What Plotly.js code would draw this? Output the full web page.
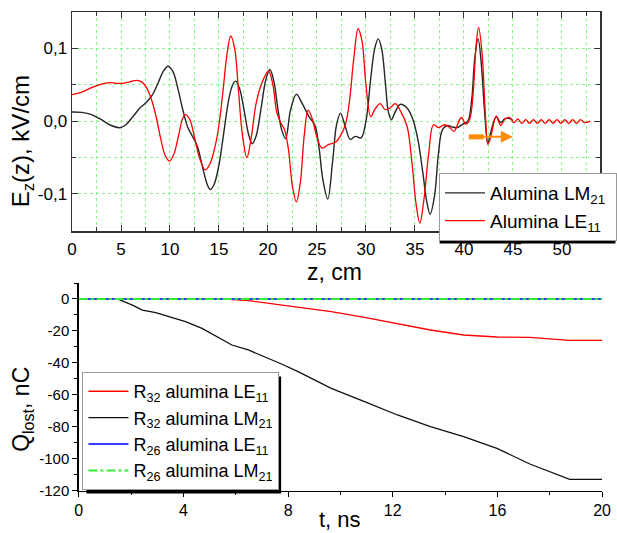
<!DOCTYPE html>
<html><head><meta charset="utf-8">
<script src="https://cdn.plot.ly/plotly-3.0.1.min.js"></script>
<style>html,body{margin:0;padding:0;background:#fff}#c{width:617px;height:533px}</style>
</head><body><div id="c"></div>
<script>
// ---- Top panel: Ez(z), kV/cm ----
const zLM21 = [0,1.0,2.0,3.0,4.0,4.9,5.5,6.2,7.0,7.6,8.2,8.8,9.3,9.8,10.3,10.8,11.3,11.8,12.3,12.8,13.3,13.8,14.1,14.5,15.0,15.5,16.0,16.4,16.7,17.1,17.6,18.0,18.4,18.8,19.3,19.8,20.2,20.6,21.0,21.4,21.8,22.3,22.9,23.5,24.2,24.8,25.2,25.6,26.1,26.6,27.0,27.4,27.9,28.4,28.9,29.5,30.0,30.5,30.9,31.25,31.6,32.0,32.3,32.6,33.0,33.5,34.2,34.8,35.3,35.8,36.2,36.55,37.0,37.4,37.8,38.3,38.8,39.3,39.9,40.4,40.8,41.1,41.45,41.8,42.1,42.45,42.8,43.3,43.75,44.15,44.6,45.0];
const eLM21 = [0.0125,0.012,0.009,0.002,-0.006,-0.009,-0.005,0.006,0.019,0.026,0.036,0.053,0.068,0.0755,0.068,0.045,0.016,-0.008,-0.021,-0.035,-0.062,-0.087,-0.094,-0.087,-0.06,-0.015,0.03,0.05,0.055,0.045,0.012,-0.017,-0.031,-0.02,0.018,0.058,0.071,0.055,0.018,-0.012,-0.024,0.015,0.037,0.024,0.006,-0.006,-0.035,-0.08,-0.107,-0.055,-0.005,0.011,-0.008,-0.025,-0.021,-0.023,0.0,0.06,0.1,0.113,0.1,0.05,0.012,0.002,0.013,0.023,0.018,0.002,-0.025,-0.07,-0.11,-0.128,-0.103,-0.045,-0.012,-0.006,-0.008,-0.009,-0.004,0.0,0.03,0.085,0.113,0.075,0.015,-0.03,-0.012,0.006,-0.002,0.003,0.004,0.001];

const zLE11 = [0,1.0,2.0,3.0,3.8,4.5,5.2,5.9,6.6,7.1,7.6,8.1,8.6,9.1,9.5,9.95,10.4,10.9,11.3,11.6,12.0,12.5,13.0,13.6,14.1,14.6,15.0,15.4,15.8,16.2,16.6,17.0,17.4,17.85,18.3,18.8,19.4,20.05,20.5,20.9,21.3,21.7,22.1,22.5,22.9,23.3,23.7,24.1,24.5,25.0,25.5,26.2,26.9,27.4,27.9,28.3,28.75,29.2,29.6,30.0,30.5,30.9,31.45,31.95,32.45,33.0,33.6,34.2,34.7,35.1,35.5,35.9,36.4,36.9,37.4,38.0,38.5,39.0,39.4,39.75,40.2,40.6,40.95,41.25,41.5,41.85,42.2,42.45,42.8,43.3,43.75,44.2,44.7,45.1,45.5,45.9,46.3,46.7,47.1,47.5,47.9,48.3,48.7,49.1,49.5,49.9,50.3,50.7,51.1,51.5,51.9,52.3,52.9];
const eLE11 = [0.0365,0.04,0.046,0.051,0.053,0.052,0.052,0.054,0.056,0.054,0.046,0.03,0.005,-0.027,-0.047,-0.055,-0.045,-0.018,0.004,0.009,0.003,-0.022,-0.05,-0.067,-0.058,-0.035,-0.005,0.04,0.09,0.117,0.1,0.04,-0.02,-0.05,-0.022,0.025,0.053,0.069,0.05,0.012,-0.002,-0.012,-0.04,-0.09,-0.111,-0.085,-0.02,0.015,0.004,-0.022,-0.037,-0.032,-0.029,-0.02,-0.005,0.025,0.085,0.127,0.11,0.05,0.006,0.016,0.024,0.016,0.018,0.024,0.012,-0.007,-0.057,-0.112,-0.14,-0.11,-0.045,-0.005,-0.009,-0.005,-0.008,-0.014,-0.003,0.005,-0.004,0.003,0.04,0.105,0.129,0.094,0.007,-0.032,-0.018,0.007,-0.006,0.003,0.005,-0.002,0.003,-0.003,0.002,-0.003,0.002,-0.003,0.002,-0.003,0.002,-0.003,0.002,-0.003,0.002,-0.003,0.002,-0.003,0.002,-0.002,0.0];

const topXTicks = [0,5,10,15,20,25,30,35,40,45,50];
const topYTicks = [-0.1,0,0.1];
const topYLabels = ['-0,1','0,0','0,1'];

// ---- Bottom panel: Q_lost(t), nC ----
const tR32LE11 = [0,5.6,6.48,7.75,8.38,9.65,10.92,12.18,13.44,14.71,15.98,17.24,18.76,20];
const qR32LE11 = [0,0,-1.0,-3.8,-5.2,-7.9,-11.5,-15.6,-19.4,-22.5,-23.8,-24.0,-25.9,-25.9];
const tR32LM21 = [0,1.48,2.05,2.43,2.94,3.57,4.08,4.71,5.34,5.85,6.48,7.12,7.75,8.38,9.65,10.92,12.18,13.44,14.71,15.98,17.24,18.76,20];
const qR32LM21 = [0,0,-3.8,-6.9,-8.5,-11.5,-14.2,-18.4,-24,-28.8,-31.9,-36.1,-40.7,-45.5,-55.9,-64.3,-72.6,-79.9,-86.2,-93.5,-103.3,-112.9,-112.9];
const tR26 = [0,20];
const qR26LE11 = [0,0];
const qR26LM21 = [0,0];

const botXTicks = [0,4,8,12,16,20];
const botYTicks = [-120,-100,-80,-60,-40,-20,0];
const botYLabels = ['-120','-100','-80','-60','-40','-20','0'];

const FONT = 'Liberation Sans, Arial, sans-serif';
const W = 617, H = 533;
const px = v => v / W, py = v => 1 - v / H;
const GRID = '#8af58a';
const AX = '#333333';
const NB = '\u00a0';

const traces = [
  {x: zLM21, y: eLM21, xaxis:'x', yaxis:'y', mode:'lines', line:{color:'#262626', width:1.4, shape:'spline'}, name:'Alumina LM<sub>21</sub>' + NB, legend:'legend'},
  {x: zLE11, y: eLE11, xaxis:'x', yaxis:'y', mode:'lines', line:{color:'#ff0000', width:1.3, shape:'spline'}, name:'Alumina LE<sub>11</sub>' + NB, legend:'legend'},
  {x: tR32LE11, y: qR32LE11, xaxis:'x2', yaxis:'y2', mode:'lines', line:{color:'#ff0000', width:1.4}, name:'R<sub>32</sub> alumina LE<sub>11</sub>', legend:'legend2'},
  {x: tR32LM21, y: qR32LM21, xaxis:'x2', yaxis:'y2', mode:'lines', line:{color:'#111111', width:1.3}, name:'R<sub>32</sub> alumina LM<sub>21</sub>', legend:'legend2'},
  {x: tR26, y: qR26LE11, xaxis:'x2', yaxis:'y2', mode:'lines', line:{color:'#3a3aff', width:2}, name:'R<sub>26</sub> alumina LE<sub>11</sub>', legend:'legend2'},
  {x: tR26, y: qR26LM21, xaxis:'x2', yaxis:'y2', mode:'lines', line:{color:'#33ee33', width:2, dash:'dashdot'}, name:'R<sub>26</sub> alumina LM<sub>21</sub>', legend:'legend2'}
];

const arrowShape = {type:'line', xref:'x', yref:'y', x0:40.5, x1:42.0, y0:-0.0216, y1:-0.0216, line:{color:'#ff8c00', width:5}, layer:'above'};

const layout = {
  width: W, height: H,
  margin: {l:0, r:0, t:0, b:0},
  paper_bgcolor:'#fff', plot_bgcolor:'#fff',
  font: {family: FONT, color:'#000'},
  showlegend: true,
  xaxis: {
    domain:[px(72.5), px(604)], anchor:'y', range:[0,53.9],
    tickmode:'array', tickvals: topXTicks, ticktext: topXTicks.map(String),
    ticks:'inside', ticklen:6, tickcolor:AX, mirror:'ticks', showline:true, linecolor:AX, linewidth:1.5,
    showgrid:true, gridcolor:GRID, griddash:'dot', gridwidth:1, zeroline:false,
    tickfont:{size:17, family:FONT}, ticklabelstandoff:2,
    minor:{tickmode:'linear', tick0:0, dtick:2.5, ticks:'inside', ticklen:4, tickcolor:AX, showgrid:true, gridcolor:GRID, griddash:'dot', gridwidth:1}
  },
  yaxis: {
    domain:[py(231), py(12)], anchor:'x', range:[-0.151,0.150],
    tickmode:'array', tickvals: topYTicks, ticktext: topYLabels,
    ticks:'inside', ticklen:6, tickcolor:AX, mirror:'ticks', showline:true, linecolor:AX, linewidth:1.5,
    showgrid:true, gridcolor:GRID, griddash:'dot', gridwidth:1, zeroline:false,
    tickfont:{size:17, family:FONT},
    minor:{tickmode:'linear', tick0:0, dtick:0.05, ticks:'inside', ticklen:4, tickcolor:AX, showgrid:true, gridcolor:GRID, griddash:'dot', gridwidth:1}
  },
  xaxis2: {
    domain:[px(79.3), px(606)], anchor:'y2', range:[0,20],
    tickmode:'array', tickvals: botXTicks, ticktext: botXTicks.map(String),
    ticks:'outside', ticklen:5, tickcolor:'#000', showline:true, linecolor:'#000', linewidth:1.5,
    showgrid:false, zeroline:false, tickfont:{size:16, family:FONT},
    minor:{tickmode:'linear', tick0:0, dtick:2, ticks:'outside', ticklen:3, tickcolor:'#000'}
  },
  yaxis2: {
    domain:[py(490.7), py(282.7)], anchor:'x2', range:[-120,10.2],
    tickmode:'array', tickvals: botYTicks, ticktext: botYLabels,
    ticks:'outside', ticklen:5, tickcolor:'#000', showline:true, linecolor:'#000', linewidth:1.5,
    showgrid:false, zeroline:false, tickfont:{size:15, family:FONT},
    minor:{tickmode:'linear', tick0:0, dtick:10, ticks:'outside', ticklen:3, tickcolor:'#000'}
  },
  legend: {
    x: px(442), y: py(173), xanchor:'left', yanchor:'top',
    bgcolor:'#fff', bordercolor:'#999', borderwidth:1,
    font:{size:19, family:FONT}, itemwidth:40, tracegroupgap:0
  },
  legend2: {
    x: px(83), y: py(372), xanchor:'left', yanchor:'top',
    bgcolor:'#fff', bordercolor:'#999', borderwidth:1,
    font:{size:18, family:FONT}, itemwidth:40, tracegroupgap:0
  },
  shapes: [arrowShape],
  annotations: [
    {xref:'x', yref:'y', x:45, y:-0.0216, ax:41.5, ay:-0.0216, axref:'x', ayref:'y', showarrow:true, arrowhead:2, arrowsize:1.2, arrowwidth:2, arrowcolor:'#ff8c00', text:''},
    {xref:'paper', yref:'paper', x:px(22.5), y:py(141), xanchor:'center', yanchor:'middle', text:'E<sub>z</sub>(z), kV/cm', textangle:-90, showarrow:false, font:{size:24, family:FONT}},
    {xref:'paper', yref:'paper', x:px(337), y:py(272), xanchor:'center', yanchor:'middle', text:'z, cm', showarrow:false, font:{size:23, family:FONT}},
    {xref:'paper', yref:'paper', x:px(22), y:py(409), xanchor:'center', yanchor:'middle', text:'Q<sub>lost</sub>, nC', textangle:-90, showarrow:false, font:{size:23, family:FONT}},
    {xref:'paper', yref:'paper', x:px(342), y:py(505), xanchor:'center', yanchor:'top', text:'t, ns', showarrow:false, font:{size:22, family:FONT}}
  ]
};

const gd = document.getElementById('c');
Plotly.newPlot(gd, traces, layout, {staticPlot:true, displayModeBar:false}).then(function(){
  const base = gd.getBoundingClientRect();
  const shadow = (sel, off) => {
    const r = gd.querySelector(sel);
    if (!r) return null;
    const b = r.getBoundingClientRect();
    const l = b.left - base.left, t = b.top - base.top, rr = b.right - base.left, bb = b.bottom - base.top;
    return {type:'rect', xref:'paper', yref:'paper', x0:px(l + off), x1:px(rr + off), y0:py(bb + off), y1:py(t + off), fillcolor:'#000', line:{width:0}, layer:'above'};
  };
  const s1 = shadow('g.legend rect.bg', 3);
  const s2 = shadow('g.legend2 rect.bg', 4);
  const shapes = [arrowShape];
  if (s1) shapes.push(s1);
  if (s2) shapes.push(s2);
  return Plotly.relayout(gd, {shapes: shapes});
});
</script></body></html>
